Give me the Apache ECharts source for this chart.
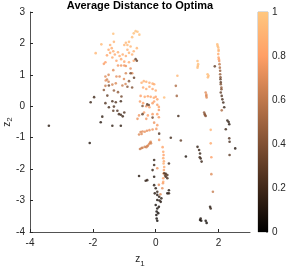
<!DOCTYPE html>
<html>
<head>
<meta charset="utf-8">
<script src="https://cdn.jsdelivr.net/npm/echarts@6/dist/echarts.min.js"></script>
<style>html,body{margin:0;padding:0;background:#fff}#c{width:287px;height:268px}</style>
</head>
<body>
<div id="c"></div>
<script>
// [z1, z2, average distance]
const leftTop = [
[-1.35,2.31,0.97],[-0.64,2.39,0.98],[-0.58,2.37,0.97],[-0.70,2.32,0.96],[-0.52,2.28,0.97],[-0.75,2.20,0.95],[-0.85,2.05,0.93],[-0.95,2.02,0.92],[-1.73,1.97,0.93],[-1.91,1.69,0.92],[-1.33,2.05,0.90],[-1.00,1.95,0.90],[-0.80,1.90,0.91],[-0.90,1.80,0.88],[-1.45,1.95,0.88],[-1.40,1.85,0.86],[-1.50,1.80,0.85],[-1.35,1.75,0.87],[-1.45,1.70,0.85],[-1.30,1.65,0.84],[-1.55,1.62,0.83],[-1.20,1.72,0.88],[-1.15,1.60,0.86],[-1.05,1.65,0.87],[-0.95,1.60,0.86],[-0.85,1.70,0.89],[-0.75,1.65,0.88],[-0.70,1.75,0.90],[-0.60,1.85,0.92],[-1.10,1.50,0.84],[-1.25,1.45,0.82],[-1.00,1.42,0.83],[-0.85,1.40,0.84],[-0.70,1.45,0.85],[-1.38,1.55,0.85],[-0.90,1.95,0.93]
];
const leftMid = [
[-1.65,1.35,0.78],[-1.60,1.40,0.80],[-1.20,1.30,0.76],[-1.10,1.30,0.75],[-1.00,1.30,0.77],[-0.95,1.28,0.74],[-0.80,1.20,0.72],[-1.35,1.15,0.70],[-1.50,1.00,0.68],[-1.60,0.95,0.70],[-1.55,0.85,0.66],[-1.59,0.82,0.72],[-1.50,0.78,0.64],[-1.60,0.65,0.62],[-1.38,0.69,0.66],[-1.27,0.73,0.68],[-1.25,0.95,0.72],[-1.15,0.95,0.70],[-0.95,1.05,0.66],[-0.96,0.71,0.67],[-1.06,0.66,0.62],[-0.75,1.05,0.68],[-1.01,0.87,0.70]
];
const leftLow = [
[-0.64,1.50,0.30],[-0.60,1.45,0.32],[-0.80,1.05,0.35],[-0.85,0.80,0.40],[-1.49,0.66,0.35],[-1.33,0.50,0.45],[-1.65,0.52,0.42],[-1.54,0.34,0.30],[-1.09,0.31,0.35],[-0.90,0.62,0.42],[-0.75,0.60,0.40],[-1.20,0.45,0.45],[-0.69,0.91,0.30],
[-1.96,0.29,0.20],[-2.07,0.13,0.18],[-1.38,0.16,0.22],[-1.27,0.13,0.25],[-1.11,0.16,0.20],[-1.49,-0.03,0.22],[-1.33,-0.01,0.24],[-1.22,-0.14,0.25],[-1.17,-0.25,0.22],[-1.11,-0.27,0.20],[-1.35,-0.14,0.28],[-1.05,-0.32,0.18],[-1.70,-0.33,0.15],[-1.75,-0.51,0.12],[-1.38,-0.62,0.15],[-1.11,-0.62,0.14],[-1.60,0.10,0.25],[-1.00,-0.20,0.24],
[-3.40,-0.62,0.12],[-2.10,-1.17,0.10]
];
const midTop = [
[-0.45,0.75,0.88],[-0.38,0.80,0.90],[-0.30,0.78,0.88],[-0.20,0.75,0.86],[-0.10,0.72,0.88],[-0.05,0.70,0.85],[-0.40,0.60,0.84],[-0.30,0.55,0.86],[-0.20,0.62,0.85],[-0.10,0.55,0.83],[0.00,0.50,0.86],[-0.48,0.33,0.80],[-0.35,0.30,0.84],[-0.25,0.32,0.82],[-0.16,0.30,0.83],[-0.06,0.27,0.85],[0.00,0.30,0.80],[0.05,0.22,0.82],[-0.50,0.15,0.78],[-0.40,0.10,0.80],[-0.30,0.00,0.76],[-0.20,-0.03,0.80],[-0.10,0.10,0.78],[-0.05,0.15,0.80],[0.05,0.05,0.78],[0.10,-0.02,0.82],[-0.37,-0.20,0.78],[-0.53,-0.29,0.76],[-0.58,-0.40,0.74],[-0.25,-0.29,0.80],[-0.10,-0.25,0.78],[0.05,-0.25,0.80],[0.10,-0.12,0.76],[-0.30,-0.40,0.76],[-0.05,-0.52,0.74],[0.05,-0.60,0.78],[0.10,-0.35,0.77],
[-0.27,0.06,0.30],[-0.22,0.04,0.35],[-0.42,0.01,0.40],[-0.42,-0.25,0.30],[-0.10,-0.36,0.35],[0.11,-0.87,0.25],[0.48,-1.00,0.20],[0.72,-0.31,0.20],
[-0.48,-0.82,0.70],[-0.42,-0.80,0.72],[-0.35,-0.81,0.74],[-0.28,-0.78,0.72],[-0.20,-0.76,0.75],[-0.10,-0.74,0.74],[-0.53,-0.90,0.68],[-0.45,-0.88,0.70],[0.02,-0.72,0.76],
[0.27,0.28,0.95],[0.69,0.97,0.92],[0.64,0.65,0.55],[0.67,0.33,0.50]
];
const midLow = [
[-0.50,-1.36,0.62],[-0.45,-1.33,0.64],[-0.42,-1.32,0.65],[-0.35,-1.29,0.66],[-0.30,-1.30,0.64],[-0.27,-1.27,0.68],[-0.25,-1.25,0.66],[-0.21,-1.20,0.70],[-0.18,-1.16,0.68],[-0.16,-1.13,0.70],[-0.15,-1.18,0.66],
[0.11,-1.07,0.75],[0.80,-1.09,0.30],
[0.22,-1.30,0.82],[0.24,-1.45,0.85],[0.25,-1.55,0.80],[0.24,-1.65,0.86],[0.26,-1.75,0.84],[0.25,-1.82,0.88],[0.27,-1.93,0.85],[0.26,-2.03,0.82],[0.25,-2.14,0.86],[0.24,-2.29,0.80],[0.23,-2.45,0.78],[0.21,-2.61,0.72],[0.24,-2.40,0.84],[0.05,-1.97,0.75],[0.10,-2.50,0.72],[0.15,-2.80,0.70],
[-0.05,-1.71,0.15],[-0.05,-1.87,0.18],[-0.10,-2.03,0.15],[0.42,-1.82,0.20],[0.27,-2.13,0.25],[0.32,-2.15,0.22],[0.37,-2.19,0.25],[0.32,-2.24,0.20],[0.37,-2.29,0.22],[0.30,-2.20,0.30],[-0.53,-2.22,0.12],[-0.32,-2.37,0.15],[-0.27,-2.35,0.14],[-0.05,-2.24,0.10],[-0.05,-2.51,0.12],[0.00,-2.61,0.10],[0.05,-2.72,0.15],[-0.03,-2.77,0.12],[0.05,-2.82,0.10],[0.11,-2.88,0.14],[0.18,-2.93,0.12],[0.16,-3.04,0.10],[0.05,-2.98,0.08],[0.42,-2.67,0.12],[0.37,-2.77,0.10],[0.42,-2.77,0.14],[0.00,-3.14,0.06],[0.05,-3.25,0.05],[0.03,-3.35,0.04],[0.02,-3.46,0.05],[0.03,-3.57,0.04],[0.05,-3.64,0.03],[0.08,-3.40,0.06],[0.10,-3.20,0.08],[0.12,-3.00,0.10]
];
const rightPts = [
[1.33,1.44,0.95],[1.35,1.34,0.96],[1.34,1.28,0.94],[1.33,1.23,0.95],[1.65,1.02,0.95],[1.68,0.97,0.94],[1.66,0.92,0.93],
[1.59,0.44,0.70],[1.61,0.37,0.72],[1.61,0.33,0.68],[1.62,0.28,0.70],
[1.54,-0.20,0.45],[1.56,-0.25,0.42],[1.59,-0.31,0.40],[1.57,-0.28,0.44],
[1.96,1.97,0.95],[1.97,1.92,0.94],[1.99,1.87,0.93],[2.00,1.80,0.92],[2.00,1.76,0.90],[1.99,1.66,0.85],[2.00,1.55,0.82],[2.01,1.50,0.80],[2.02,1.44,0.75],[2.03,1.34,0.60],[2.04,1.23,0.55],[2.05,1.13,0.45],[2.05,1.02,0.48],[2.06,0.92,0.40],[2.06,0.86,0.30],[2.07,0.76,0.28],[2.07,0.70,0.40],[2.09,0.60,0.45],[2.09,0.54,0.38],[2.07,0.44,0.30],[2.10,0.33,0.25],[2.12,0.22,0.22],[2.15,0.12,0.20],[2.18,-0.03,0.18],[2.10,-0.13,0.55],[1.88,1.27,0.30],
[1.75,-0.75,0.90],
[2.28,-0.45,0.15],[2.34,-0.57,0.12],[2.23,-0.73,0.18],[2.32,-0.50,0.15],
[2.34,-1.02,0.25],[2.35,-1.13,0.22],[2.35,-1.55,0.28],[2.53,-1.34,0.10],[0.96,-1.60,0.08],
[1.33,-1.29,0.15],[1.38,-1.39,0.18],[1.41,-1.50,0.16],[1.43,-1.66,0.14],[1.46,-1.76,0.18],[1.40,-1.62,0.20],
[1.75,-1.18,0.85],[1.77,-1.62,0.80],[1.77,-2.16,0.70],[1.82,-2.72,0.62],
[1.73,-3.20,0.12],[1.75,-3.25,0.15],[1.43,-3.57,0.08],[1.45,-3.64,0.06],[1.41,-3.62,0.07],[1.59,-3.64,0.06],[1.62,-3.71,0.05]
];
const xTicks = [-4, -2, 0, 2];
const yTicks = [-4, -3, -2, -1, 0, 1, 2, 3];
const cbarTicks = [0, 0.2, 0.4, 0.6, 0.8, 1];
// MATLAB copper colormap stops at 0, 0.2, ..., 1
const copper = ['#000000', '#402819', '#805033', '#BF784C', '#FF9F66', '#FFC77F'];

const allPts = [].concat(leftTop, leftMid, leftLow, midTop, midLow, rightPts);
const font = 'Liberation Sans, Arial, Helvetica, sans-serif';
const axisCol = '#262626';

const chart = echarts.init(document.getElementById('c'), null, {renderer: 'canvas'});
chart.setOption({
  animation: false,
  backgroundColor: '#fff',
  title: {
    text: 'Average Distance to Optima',
    left: 140, top: 0, padding: 0, textAlign: 'center',
    textStyle: {fontFamily: font, fontSize: 11, fontWeight: 'bold', color: '#000'}
  },
  grid: [
    {left: 30, top: 12, width: 220, height: 220, outerBoundsMode: 'none', containLabel: false},
    {left: 258, top: 12, width: 10, height: 220, outerBoundsMode: 'none', containLabel: false,
     show: true, borderColor: '#8c8c8c', borderWidth: 0.6}
  ],
  xAxis: [
    {
      type: 'value', min: -4, max: 3, interval: 2, gridIndex: 0,
      axisLine: {show: true, onZero: false, lineStyle: {color: axisCol, width: 0.8}},
      axisTick: {show: true, inside: true, length: 3, customValues: xTicks, lineStyle: {color: axisCol}},
      axisLabel: {customValues: xTicks, color: axisCol, fontFamily: font, fontSize: 10, margin: 6},
      splitLine: {show: false},
      name: '{z|z}{s|1}', nameLocation: 'middle', nameGap: 22, nameMoveOverlap: false,
      nameTextStyle: {rich: {
        z: {fontFamily: font, fontSize: 10, color: axisCol, lineHeight: 14, verticalAlign: 'top'},
        s: {fontFamily: font, fontSize: 8, color: axisCol, lineHeight: 14, verticalAlign: 'bottom'}
      }}
    },
    {type: 'category', gridIndex: 1, data: [''], show: false}
  ],
  yAxis: [
    {
      type: 'value', min: -4, max: 3, interval: 1, gridIndex: 0,
      axisLine: {show: true, onZero: false, lineStyle: {color: axisCol, width: 0.8}},
      axisTick: {show: true, inside: true, length: 3, customValues: yTicks, lineStyle: {color: axisCol}},
      axisLabel: {customValues: yTicks, color: axisCol, fontFamily: font, fontSize: 10, margin: 5},
      splitLine: {show: false},
      name: '{z|z}{s|2}', nameLocation: 'middle', nameGap: 16, nameRotate: 90, nameMoveOverlap: false,
      nameTextStyle: {rich: {
        z: {fontFamily: font, fontSize: 10, color: axisCol, lineHeight: 12, verticalAlign: 'top'},
        s: {fontFamily: font, fontSize: 8, color: axisCol, lineHeight: 12, verticalAlign: 'bottom'}
      }}
    },
    {
      type: 'value', min: 0, max: 1, interval: 0.2, gridIndex: 1, position: 'right',
      axisLine: {show: false},
      axisTick: {show: true, inside: true, length: 2, customValues: cbarTicks, lineStyle: {color: '#8c8c8c'}},
      axisLabel: {customValues: cbarTicks, color: axisCol, fontFamily: font, fontSize: 10, margin: 4},
      splitLine: {show: false}
    }
  ],
  visualMap: {
    show: false, type: 'continuous', min: 0, max: 1, dimension: 2, seriesIndex: 0,
    inRange: {color: copper}
  },
  series: [
    {
      type: 'scatter', xAxisIndex: 0, yAxisIndex: 0,
      symbol: 'circle', symbolSize: 2.6,
      data: allPts, silent: true
    },
    {
      type: 'bar', xAxisIndex: 1, yAxisIndex: 1, barWidth: '100%', silent: true,
      data: [1],
      itemStyle: {color: new echarts.graphic.LinearGradient(0, 1, 0, 0,
        copper.map((c, i) => ({offset: i / (copper.length - 1), color: c})))}
    }
  ]
});
</script>
</body>
</html>
